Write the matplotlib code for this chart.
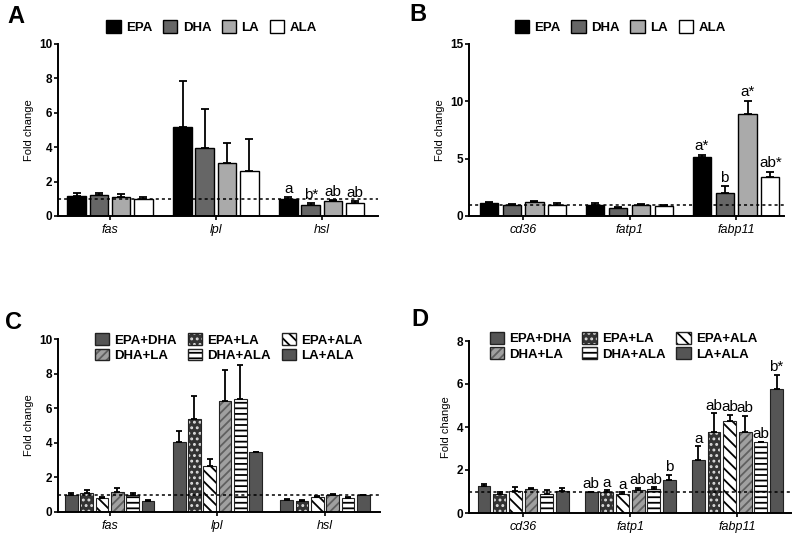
import matplotlib
matplotlib.use("Agg")
import matplotlib.pyplot as plt
from matplotlib.patches import Patch
import numpy as np

plt.rcParams["font.family"] = ["Liberation Sans", "DejaVu Sans"]
plt.rcParams["hatch.linewidth"] = 1.3

# ---- data ----------------------------------------------------------------
single_groups = ["EPA", "DHA", "LA", "ALA"]
pair_groups = ["EPA+DHA", "EPA+LA", "EPA+ALA", "DHA+LA", "DHA+ALA", "LA+ALA"]

genes_lipo = ["fas", "lpl", "hsl"]
genes_uptake = ["cd36", "fatp1", "fabp11"]

# panel A: rows = genes, cols = EPA, DHA, LA, ALA
a_mean = [[1.17, 1.24, 1.09, 1.01],
          [5.15, 3.94, 3.07, 2.62],
          [1.00, 0.66, 0.85, 0.78]]
a_top = [[1.32, 1.36, 1.26, 1.13],
         [7.85, 6.25, 4.27, 4.47],
         [1.10, 0.76, 0.93, 0.87]]
a_labels = [["", "", "", ""],
            ["", "", "", ""],
            ["a", "b*", "ab", "ab"]]

# panel B
b_mean = [[1.10, 0.96, 1.22, 0.99],
          [0.99, 0.70, 0.99, 0.87],
          [5.18, 2.04, 8.91, 3.44]]
b_top = [[1.25, 1.02, 1.31, 1.10],
         [1.10, 0.79, 1.08, 0.93],
         [5.33, 2.62, 10.05, 3.85]]
b_labels = [["", "", "", ""],
            ["", "", "", ""],
            ["a*", "b", "a*", "ab*"]]

# panel C: cols = EPA+DHA, EPA+LA, EPA+ALA, DHA+LA, DHA+ALA, LA+ALA
c_mean = [[1.00, 1.12, 0.81, 1.17, 1.00, 0.65],
          [4.04, 5.35, 2.65, 6.44, 6.54, 3.46],
          [0.71, 0.65, 0.85, 0.98, 0.81, 0.96]]
c_top = [[1.10, 1.29, 0.87, 1.37, 1.08, 0.71],
         [4.67, 6.69, 3.06, 8.18, 8.48, 3.46],
         [0.77, 0.69, 0.92, 1.04, 0.85, 0.99]]

# panel D
d_mean = [[1.24, 0.90, 1.01, 1.10, 0.89, 1.01],
          [0.98, 0.96, 0.89, 1.06, 1.12, 1.55],
          [2.48, 3.76, 4.29, 3.76, 3.29, 5.79]]
d_top = [[1.37, 0.98, 1.21, 1.18, 1.06, 1.18],
         [1.00, 1.06, 0.96, 1.16, 1.20, 1.79],
         [3.10, 4.64, 4.55, 4.53, 3.32, 6.43]]
d_labels = [["", "", "", "", "", ""],
            ["ab", "a", "a", "ab", "ab", "b"],
            ["a", "ab", "ab", "ab", "ab", "b*"]]

# ---- styles ---------------------------------------------------------------
single_style = [dict(fc="black"), dict(fc="#666666"),
                dict(fc="#aaaaaa"), dict(fc="white")]
pair_style = [dict(fc="#555555", hatch=None, hc="#555555"),
              dict(fc="#333333", hatch="...", hc="#dddddd"),
              dict(fc="white", hatch="\\\\\\", hc="black"),
              dict(fc="#a0a0a0", hatch="////", hc="#606060"),
              dict(fc="white", hatch="---", hc="black"),
              dict(fc="#555555", hatch=None, hc="#555555")]

W, H = 792, 533


def ax_at(left, right, top, bottom):
    return fig.add_axes([left / W, 1 - bottom / H, (right - left) / W, (bottom - top) / H])


def style_axis(ax, genes, ylim, yticks, xlim):
    ax.axhline(1, color="black", linestyle=(0, (2, 2)), linewidth=1.1, zorder=5)
    ax.set_xlim(*xlim)
    ax.set_ylim(*ylim)
    ax.set_yticks(yticks)
    ax.set_xticks(range(len(genes)))
    ax.set_xticklabels(genes, style="italic", fontsize=9)
    for t in ax.get_yticklabels():
        t.set_fontweight("bold")
        t.set_fontsize(8.5)
    ax.tick_params(axis="y", length=3, width=1.2, pad=1)
    ax.tick_params(axis="x", length=3, width=1.2, pad=3)
    for s in ["top", "right"]:
        ax.spines[s].set_visible(False)
    for s in ["left", "bottom"]:
        ax.spines[s].set_linewidth(1.4)
    ax.set_ylabel("Fold change", fontsize=8)


def draw_singles(ax, mean, top, labels, width, step):
    n = len(single_groups)
    for j in range(n):
        xs = np.arange(len(mean)) + (j - (n - 1) / 2) * step
        m = np.array([row[j] for row in mean])
        t = np.array([row[j] for row in top])
        ax.bar(xs, m, width, color=single_style[j]["fc"], edgecolor="black",
               linewidth=1.0, zorder=2)
        ax.errorbar(xs, m, yerr=[np.zeros_like(m), t - m], fmt="none",
                    ecolor="black", elinewidth=1.3, capsize=3, capthick=1.3, zorder=3)
        for i in range(len(mean)):
            if labels[i][j]:
                ax.annotate(labels[i][j], (xs[i], t[i]), xytext=(0, 1),
                            textcoords="offset points", ha="center", va="bottom",
                            fontsize=11)


def draw_pairs(ax, mean, top, labels, width, step):
    n = len(pair_groups)
    for j in range(n):
        st = pair_style[j]
        xs = np.arange(len(mean)) + (j - (n - 1) / 2) * step
        m = np.array([row[j] for row in mean])
        t = np.array([row[j] for row in top])
        ax.bar(xs, m, width, color=st["fc"], edgecolor=st["hc"], hatch=st["hatch"],
               linewidth=0, zorder=2)
        ax.bar(xs, m, width, fill=False, edgecolor="#222222", linewidth=0.8, zorder=2)
        ax.errorbar(xs, m, yerr=[np.zeros_like(m), t - m], fmt="none",
                    ecolor="black", elinewidth=1.3, capsize=2.5, capthick=1.3, zorder=3)
        if labels is None:
            continue
        for i in range(len(mean)):
            if labels[i][j]:
                ax.annotate(labels[i][j], (xs[i], t[i]), xytext=(0, 0.5),
                            textcoords="offset points", ha="center", va="bottom",
                            fontsize=11)


def single_handles():
    return [Patch(facecolor=s["fc"], edgecolor="black", linewidth=1.0) for s in single_style]


def pair_handles():
    hs = []
    for s in pair_style:
        fill = Patch(facecolor=s["fc"], edgecolor=s["hc"], hatch=s["hatch"], linewidth=0)
        edge = Patch(fill=False, edgecolor="#222222", linewidth=1.0)
        hs.append((fill, edge))
    order = [0, 3, 1, 4, 2, 5]
    return [hs[k] for k in order], [pair_groups[k] for k in order]


fig = plt.figure(figsize=(W / 100, H / 100), dpi=100)

# ---- A --------------------------------------------------------------------
axA = ax_at(58, 378, 44, 216)
draw_singles(axA, a_mean, a_top, a_labels, 0.175, 0.21)
style_axis(axA, genes_lipo, (0, 10), [0, 2, 4, 6, 8, 10], (-0.49, 2.53))
axA.legend(single_handles(), single_groups, loc="center", bbox_to_anchor=(0.48, 1.1),
           ncol=4, frameon=False, prop=dict(weight="bold", size=9.5),
           handlelength=1.1, handleheight=1.1, handletextpad=0.4, columnspacing=0.8)

# ---- B --------------------------------------------------------------------
axB = ax_at(469, 784, 44, 216)
draw_singles(axB, b_mean, b_top, b_labels, 0.17, 0.215)
style_axis(axB, genes_uptake, (0, 15), [0, 5, 10, 15], (-0.507, 2.45))
axB.legend(single_handles(), single_groups, loc="center", bbox_to_anchor=(0.48, 1.1),
           ncol=4, frameon=False, prop=dict(weight="bold", size=9.5),
           handlelength=1.1, handleheight=1.1, handletextpad=0.4, columnspacing=0.8)

# ---- C --------------------------------------------------------------------
axC = ax_at(58, 380, 339, 512)
draw_pairs(axC, c_mean, c_top, None, 0.118, 0.142)
style_axis(axC, genes_lipo, (0, 10), [0, 2, 4, 6, 8, 10], (-0.48, 2.51))
h, l = pair_handles()
axC.legend(h, l, loc="center", bbox_to_anchor=(0.53, 0.95), ncol=3, frameon=False,
           prop=dict(weight="bold", size=9.5), handlelength=1.1, handleheight=1.0,
           handletextpad=0.4, columnspacing=0.8, labelspacing=0.15)

# ---- D --------------------------------------------------------------------
axD = ax_at(469, 791, 341, 513)
draw_pairs(axD, d_mean, d_top, d_labels, 0.12, 0.146)
style_axis(axD, genes_uptake, (0, 8), [0, 2, 4, 6, 8], (-0.505, 2.5))
h, l = pair_handles()
axD.legend(h, l, loc="center", bbox_to_anchor=(0.48, 0.97), ncol=3, frameon=False,
           prop=dict(weight="bold", size=9.5), handlelength=1.1, handleheight=1.0,
           handletextpad=0.4, columnspacing=0.8, labelspacing=0.15)

# ---- panel letters -------------------------------------------------------
for letter, x, y in [("A", 7, 5), ("B", 409, 3), ("C", 5, 311), ("D", 411, 308)]:
    fig.text(x / W, 1 - y / H, letter, fontsize=17, fontweight="bold", ha="left", va="top")

fig.savefig("out.png", dpi=100)
